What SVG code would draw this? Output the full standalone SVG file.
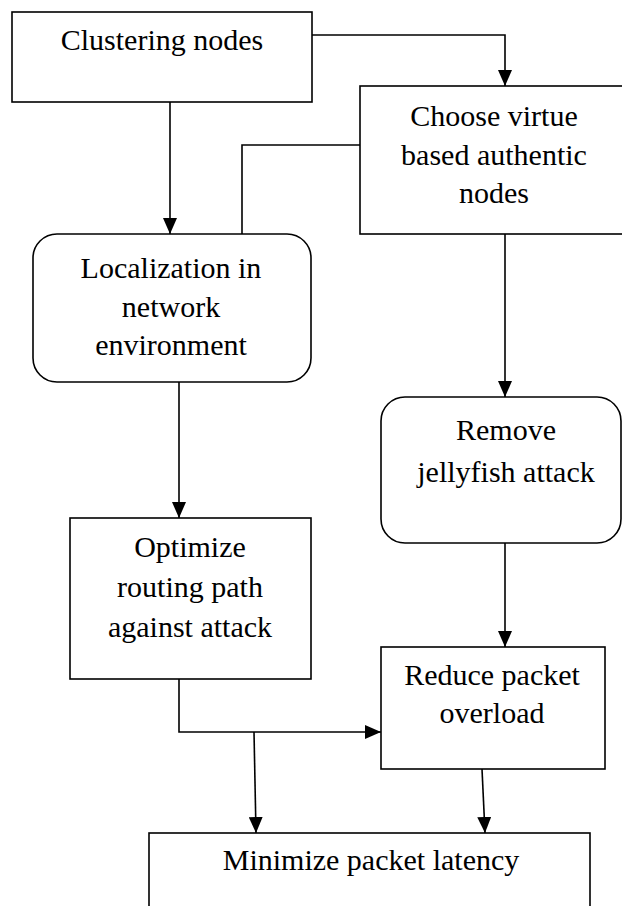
<svg xmlns="http://www.w3.org/2000/svg" width="622" height="906" viewBox="0 0 622 906">
<style>
.box{fill:#fff;stroke:#000;stroke-width:1.6}
.t{font-family:"Liberation Serif","Times New Roman",serif;font-size:30px;fill:#000;text-anchor:middle}
.c{fill:none;stroke:#000;stroke-width:1.6}
</style>
<defs>
<marker id="ah" viewBox="0 0 16 14" refX="16" refY="7" markerWidth="16" markerHeight="14" markerUnits="userSpaceOnUse" orient="auto">
<path d="M0,0 L16,7 L0,14 Z" fill="#000"/>
</marker>
</defs>
<rect width="622" height="906" fill="#fff"/>
<g id="connectors">
<path class="c" d="M312,35 H505 V86" marker-end="url(#ah)"/>
<path class="c" d="M170,102 V234" marker-end="url(#ah)"/>
<path class="c" d="M360,145 H242 V234"/>
<path class="c" d="M505,234 V397" marker-end="url(#ah)"/>
<path class="c" d="M179,382 V518" marker-end="url(#ah)"/>
<path class="c" d="M505,543 V647" marker-end="url(#ah)"/>
<path class="c" d="M179,679 V732 H381" marker-end="url(#ah)"/>
<path class="c" d="M254,732 L256,833" marker-end="url(#ah)"/>
<path class="c" d="M482,769 L485,833" marker-end="url(#ah)"/>
</g>
<g id="n1"><rect class="box" x="12" y="12" width="300" height="90"/><text class="t" x="162" y="50">Clustering nodes</text></g>
<g id="n2"><rect class="box" x="360" y="86" width="270" height="148"/><text class="t" x="494" y="126">Choose virtue</text><text class="t" x="494" y="165">based authentic</text><text class="t" x="494" y="203">nodes</text></g>
<g id="n3"><rect class="box" x="33" y="234" width="278" height="148" rx="24"/><text class="t" x="171" y="278">Localization in</text><text class="t" x="171" y="317">network</text><text class="t" x="171" y="355">environment</text></g>
<g id="n4"><rect class="box" x="381" y="397" width="240" height="146" rx="24"/><text class="t" x="506" y="440">Remove</text><text class="t" x="506" y="482">jellyfish attack</text></g>
<g id="n5"><rect class="box" x="70" y="518" width="241" height="161"/><text class="t" x="190" y="557">Optimize</text><text class="t" x="190" y="597">routing path</text><text class="t" x="190" y="637">against attack</text></g>
<g id="n6"><rect class="box" x="381" y="647" width="224" height="122"/><text class="t" x="492" y="685">Reduce packet</text><text class="t" x="492" y="723">overload</text></g>
<g id="n7"><rect class="box" x="149" y="833" width="441" height="90"/><text class="t" x="371" y="870">Minimize packet latency</text></g>
</svg>
